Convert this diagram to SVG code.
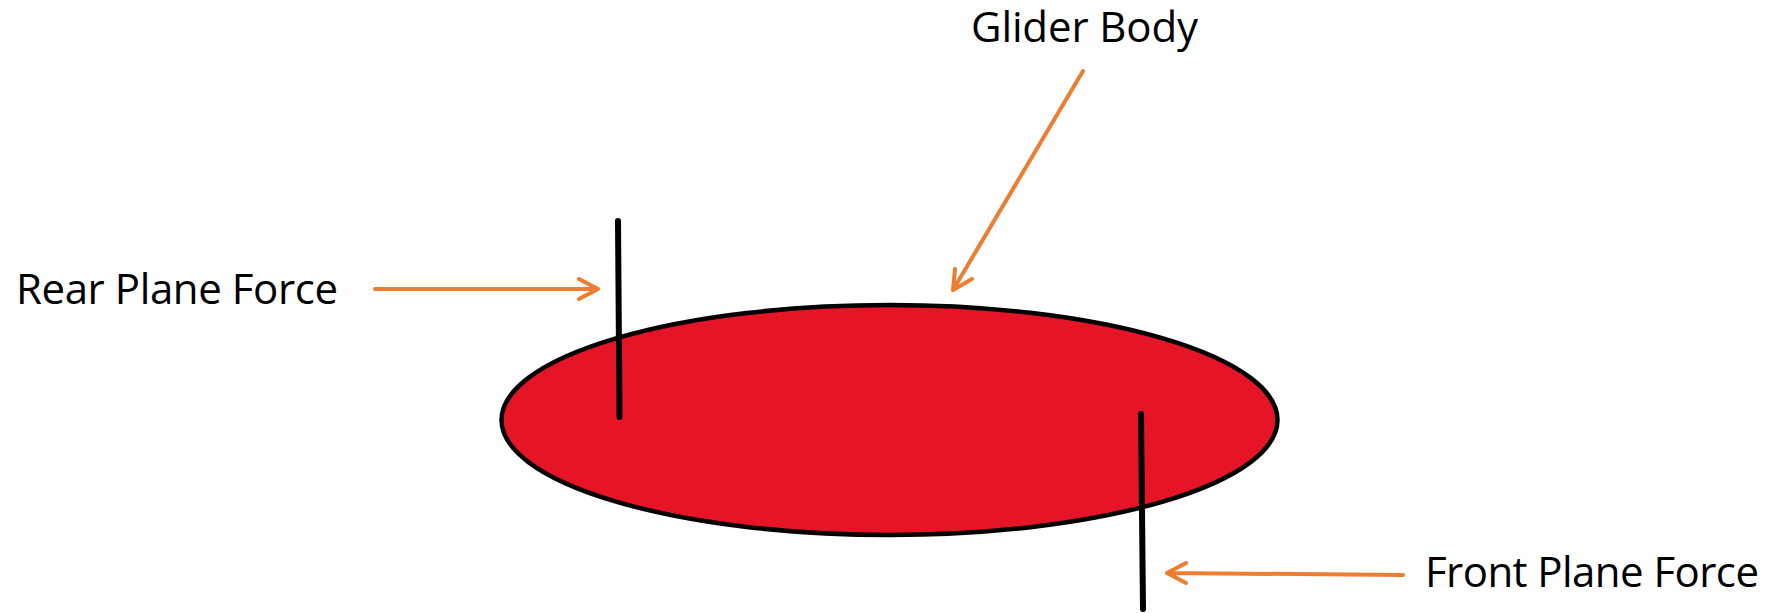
<svg xmlns="http://www.w3.org/2000/svg" width="1777" height="613" viewBox="0 0 1777 613">
  <style>
    .lbl { font-family: "Open Sans", "Liberation Sans", sans-serif; font-size: 42px; fill: #000; }
    .pointer { fill: none; stroke: #ED7D31; stroke-width: 4; stroke-linecap: round; stroke-linejoin: round; }
    .force { fill: none; stroke: #000; stroke-width: 6; stroke-linecap: round; }
  </style>
  <rect width="1777" height="613" fill="#fff"/>
  <g id="glider-body">
    <ellipse cx="889.5" cy="420" rx="388" ry="115" fill="#E61427" stroke="#000" stroke-width="4.5"/>
  </g>
  <g id="rear-plane-force">
    <line class="force" x1="618" y1="221" x2="619.5" y2="417"/>
  </g>
  <g id="front-plane-force">
    <line class="force" x1="1141" y1="414" x2="1143" y2="609"/>
  </g>
  <g id="labels">
    <text id="label-glider" class="lbl" x="971" y="42" textLength="227">Glider Body</text>
    <text id="label-rear" class="lbl" x="16" y="304" textLength="322">Rear Plane Force</text>
    <text id="label-front" class="lbl" x="1425" y="587" textLength="334">Front Plane Force</text>
  </g>
  <g id="connectors">
    <path class="pointer" d="M1083,71 L953,290 M955,269 L953,290 L972,279"/>
    <path class="pointer" d="M375,289 L598,289 M579,279 L598,289 L579,299"/>
    <path class="pointer" d="M1403,575 L1167,573 M1186,563 L1167,573 L1186,583"/>
  </g>
</svg>
